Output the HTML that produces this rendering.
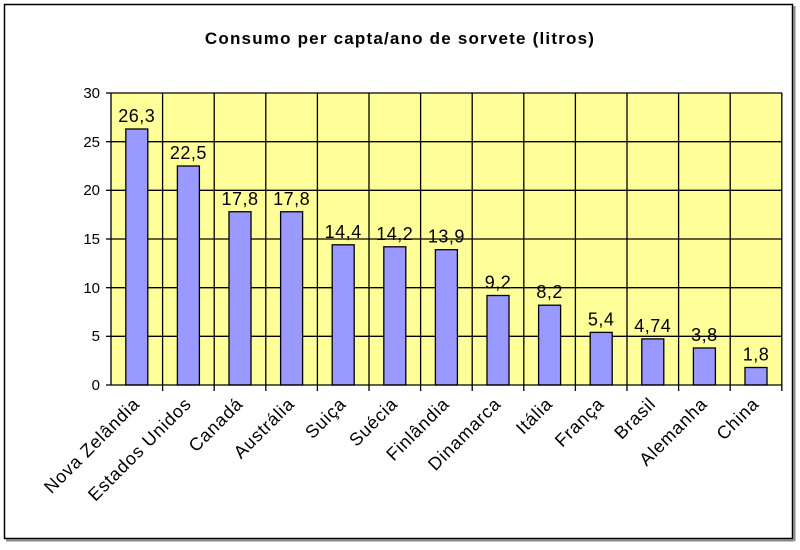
<!DOCTYPE html>
<html><head><style>
body{margin:0;background:#fff;}
svg text{font-family:"Liberation Sans",Arial,sans-serif;}
</style></head><body>
<svg width="800" height="545" viewBox="0 0 800 545" xmlns="http://www.w3.org/2000/svg">
<rect x="0" y="0" width="800" height="545" fill="#fff"/>
<rect x="4.5" y="4.5" width="788" height="534" fill="#fff" stroke="#000" stroke-width="1.5"/>
<line x1="6" y1="540.5" x2="794" y2="540.5" stroke="#888" stroke-width="2"/>
<line x1="794.5" y1="6" x2="794.5" y2="541" stroke="#888" stroke-width="2"/>
<text x="400" y="44" text-anchor="middle" font-size="17" font-weight="bold" letter-spacing="1.2">Consumo per capta/ano de sorvete (litros)</text>
<rect x="111" y="93" width="671" height="292" fill="#ffff99" stroke="#808080" stroke-width="1"/>
<g stroke="#000" stroke-width="1.3">
<line x1="111" y1="141.7" x2="782" y2="141.7"/>
<line x1="111" y1="190.3" x2="782" y2="190.3"/>
<line x1="111" y1="239" x2="782" y2="239"/>
<line x1="111" y1="287.7" x2="782" y2="287.7"/>
<line x1="111" y1="336.3" x2="782" y2="336.3"/>
<line x1="111" y1="93" x2="782" y2="93"/>
<line x1="162.6" y1="93" x2="162.6" y2="391"/>
<line x1="214.2" y1="93" x2="214.2" y2="391"/>
<line x1="265.8" y1="93" x2="265.8" y2="391"/>
<line x1="317.4" y1="93" x2="317.4" y2="391"/>
<line x1="369" y1="93" x2="369" y2="391"/>
<line x1="420.6" y1="93" x2="420.6" y2="391"/>
<line x1="472.2" y1="93" x2="472.2" y2="391"/>
<line x1="523.8" y1="93" x2="523.8" y2="391"/>
<line x1="575.4" y1="93" x2="575.4" y2="391"/>
<line x1="627" y1="93" x2="627" y2="391"/>
<line x1="678.6" y1="93" x2="678.6" y2="391"/>
<line x1="730.2" y1="93" x2="730.2" y2="391"/>
<line x1="781.8" y1="93" x2="781.8" y2="391"/>
</g>
<g fill="#9999ff" stroke="#000" stroke-width="1.3">
<rect x="125.8" y="129" width="22" height="256"/>
<rect x="177.4" y="166" width="22" height="219"/>
<rect x="229" y="211.75" width="22" height="173.25"/>
<rect x="280.6" y="211.75" width="22" height="173.25"/>
<rect x="332.2" y="244.8" width="22" height="140.2"/>
<rect x="383.8" y="246.8" width="22" height="138.2"/>
<rect x="435.4" y="249.7" width="22" height="135.3"/>
<rect x="487" y="295.5" width="22" height="89.5"/>
<rect x="538.6" y="305.2" width="22" height="79.8"/>
<rect x="590.2" y="332.4" width="22" height="52.6"/>
<rect x="641.8" y="338.9" width="22" height="46.1"/>
<rect x="693.4" y="348" width="22" height="37"/>
<rect x="745" y="367.5" width="22" height="17.5"/>
</g>
<g font-size="18" text-anchor="middle" fill="#000" letter-spacing="0.5">
<text x="136.8" y="122">26,3</text>
<text x="188.4" y="159">22,5</text>
<text x="240" y="204.75">17,8</text>
<text x="291.6" y="204.75">17,8</text>
<text x="343.2" y="237.8">14,4</text>
<text x="394.8" y="239.8">14,2</text>
<text x="446.4" y="242.7">13,9</text>
<text x="498" y="288.5">9,2</text>
<text x="549.6" y="298.2">8,2</text>
<text x="601.2" y="325.4">5,4</text>
<text x="652.8" y="331.9">4,74</text>
<text x="704.4" y="341">3,8</text>
<text x="756" y="360.5">1,8</text>
</g>
<g font-size="15" text-anchor="end" fill="#000">
<text x="100" y="98">30</text><text x="100" y="147">25</text><text x="100" y="195">20</text>
<text x="100" y="244">15</text><text x="100" y="293">10</text><text x="100" y="341">5</text><text x="100" y="390">0</text>
</g>
<line x1="111" y1="93" x2="111" y2="385" stroke="#000" stroke-width="1.3"/>
<line x1="106" y1="385" x2="782" y2="385" stroke="#000" stroke-width="1.3"/>
<g stroke="#000" stroke-width="1.3">
<line x1="106" y1="93" x2="111" y2="93"/><line x1="106" y1="141.7" x2="111" y2="141.7"/>
<line x1="106" y1="190.3" x2="111" y2="190.3"/><line x1="106" y1="239" x2="111" y2="239"/>
<line x1="106" y1="287.7" x2="111" y2="287.7"/><line x1="106" y1="336.3" x2="111" y2="336.3"/>
</g>
<g font-size="18" text-anchor="end" fill="#000" letter-spacing="0.8">
<text transform="translate(140.8,405) rotate(-45)">Nova Zelândia</text>
<text transform="translate(192.4,405) rotate(-45)">Estados Unidos</text>
<text transform="translate(244,405) rotate(-45)">Canadá</text>
<text transform="translate(295.6,405) rotate(-45)">Austrália</text>
<text transform="translate(347.2,405) rotate(-45)">Suiça</text>
<text transform="translate(398.8,405) rotate(-45)">Suécia</text>
<text transform="translate(450.4,405) rotate(-45)">Finlândia</text>
<text transform="translate(502,405) rotate(-45)">Dinamarca</text>
<text transform="translate(553.6,405) rotate(-45)">Itália</text>
<text transform="translate(605.2,405) rotate(-45)">França</text>
<text transform="translate(656.8,405) rotate(-45)">Brasil</text>
<text transform="translate(708.4,405) rotate(-45)">Alemanha</text>
<text transform="translate(760,405) rotate(-45)">China</text>
</g>
</svg>
</body></html>
